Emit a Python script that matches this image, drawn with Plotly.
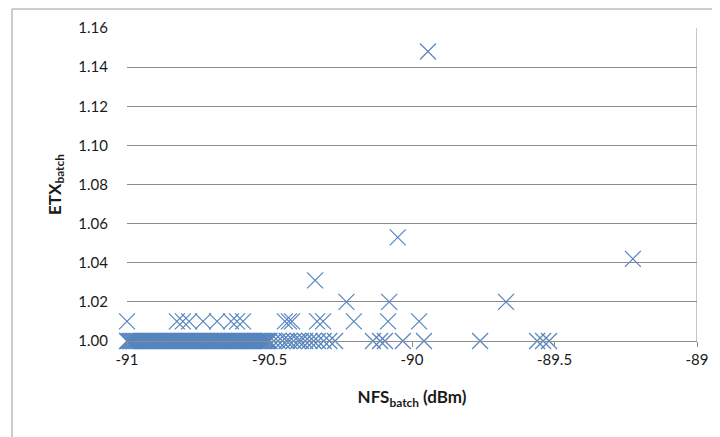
import plotly.graph_objects as go

# ETX = 1.00 row
nfs_100 = [
    -91.00, -90.99, -90.98, -90.97, -90.96, -90.95, -90.94, -90.93, -90.92, -90.91,
    -90.90, -90.89, -90.88, -90.87, -90.86, -90.85, -90.84, -90.83, -90.82, -90.81,
    -90.80, -90.79, -90.78, -90.77, -90.76, -90.75, -90.74, -90.73, -90.72, -90.71,
    -90.70, -90.69, -90.68, -90.67, -90.66, -90.65, -90.64, -90.63, -90.62, -90.61,
    -90.60, -90.59, -90.58, -90.57, -90.56, -90.55, -90.54, -90.53, -90.52, -90.51,
    -90.50, -90.485, -90.47, -90.455, -90.44, -90.43, -90.415, -90.40, -90.39,
    -90.375, -90.36, -90.345, -90.33, -90.31, -90.29, -90.27,
    -90.137, -90.112, -90.095, -90.032, -89.958, -89.761, -89.561, -89.540, -89.519,
    -90.995, -90.985, -90.975, -90.965, -90.955, -90.945, -90.935, -90.925, -90.915,
    -90.905, -90.895, -90.885, -90.875, -90.865, -90.855, -90.845, -90.835, -90.825,
    -90.815, -90.805, -90.795, -90.785, -90.775, -90.765, -90.755, -90.745, -90.735,
    -90.725, -90.715, -90.705, -90.695, -90.685, -90.675, -90.665, -90.655, -90.645,
    -90.635, -90.625, -90.615, -90.605, -90.595, -90.585, -90.575, -90.565, -90.555,
    -90.545, -90.535, -90.525, -90.515, -90.505,
]
etx_100 = [1.00] * len(nfs_100)

# ETX = 1.01 row
nfs_101 = [
    -91.00, -90.825, -90.804, -90.782, -90.733, -90.684, -90.635, -90.614, -90.593,
    -90.446, -90.432, -90.421, -90.333, -90.312, -90.204, -90.084, -89.975,
]
etx_101 = [1.01] * len(nfs_101)

# Other points
nfs_other = [-90.23, -90.08, -89.67, -90.34, -89.225, -90.05, -89.944]
etx_other = [1.02, 1.02, 1.02, 1.031, 1.042, 1.053, 1.148]

x_all = nfs_100 + nfs_101 + nfs_other
y_all = etx_100 + etx_101 + etx_other

y_ticks = [1.00, 1.02, 1.04, 1.06, 1.08, 1.10, 1.12, 1.14, 1.16]
y_tick_text = ["1.00", "1.02", "1.04", "1.06", "1.08", "1.10", "1.12", "1.14", "1.16"]
x_ticks = [-91, -90.5, -90, -89.5, -89]
x_tick_text = ["-91", "-90.5", "-90", "-89.5", "-89"]

GRID = "#8c8c8c"
FONT = "Lato"
MARK = "#5585c0"

fig = go.Figure()
fig.add_trace(go.Scatter(
    x=x_all, y=y_all, mode="markers", cliponaxis=False,
    marker=dict(symbol="x-thin-open", size=16, color=MARK,
                line=dict(color=MARK, width=1.2)),
    showlegend=False,
))

fig.update_layout(
    width=720, height=437,
    margin=dict(l=119, r=31, t=20, b=104),
    paper_bgcolor="white", plot_bgcolor="white",
    font=dict(family=FONT, size=15, color="#1a1a1a"),
    xaxis=dict(
        range=[-91, -89], tickvals=x_ticks, ticktext=x_tick_text, automargin=False,
        showgrid=False, zeroline=False, showline=True, linecolor=GRID, linewidth=1,
        ticks="outside", ticklen=5, tickcolor=GRID,
        title=dict(text="<b>NFS<sub>batch</sub> (dBm)</b>", font=dict(size=17), standoff=24),
    ),
    yaxis=dict(
        range=[1.00, 1.16], tickvals=y_ticks, ticktext=y_tick_text, automargin=False,
        showgrid=True, gridcolor=GRID, gridwidth=1, zeroline=False, showline=False,
        ticks="", ticklabelstandoff=18,
        title=dict(text="<b>ETX<sub>batch</sub></b>", font=dict(size=17), standoff=12),
    ),
    shapes=[
        dict(type="line", xref="x", yref="paper", x0=-89, x1=-89, y0=0, y1=1,
             line=dict(color=GRID, width=1)),
        dict(type="line", xref="paper", yref="paper", x0=-0.2018, x1=1.1, y0=1.0607, y1=1.0607,
             line=dict(color="#9a9a9a", width=1)),
        dict(type="line", xref="paper", yref="paper", x0=-0.2018, x1=-0.2018, y0=-0.4, y1=1.0607,
             line=dict(color="#9a9a9a", width=1)),
    ],
)

fig.write_html("out.html")
